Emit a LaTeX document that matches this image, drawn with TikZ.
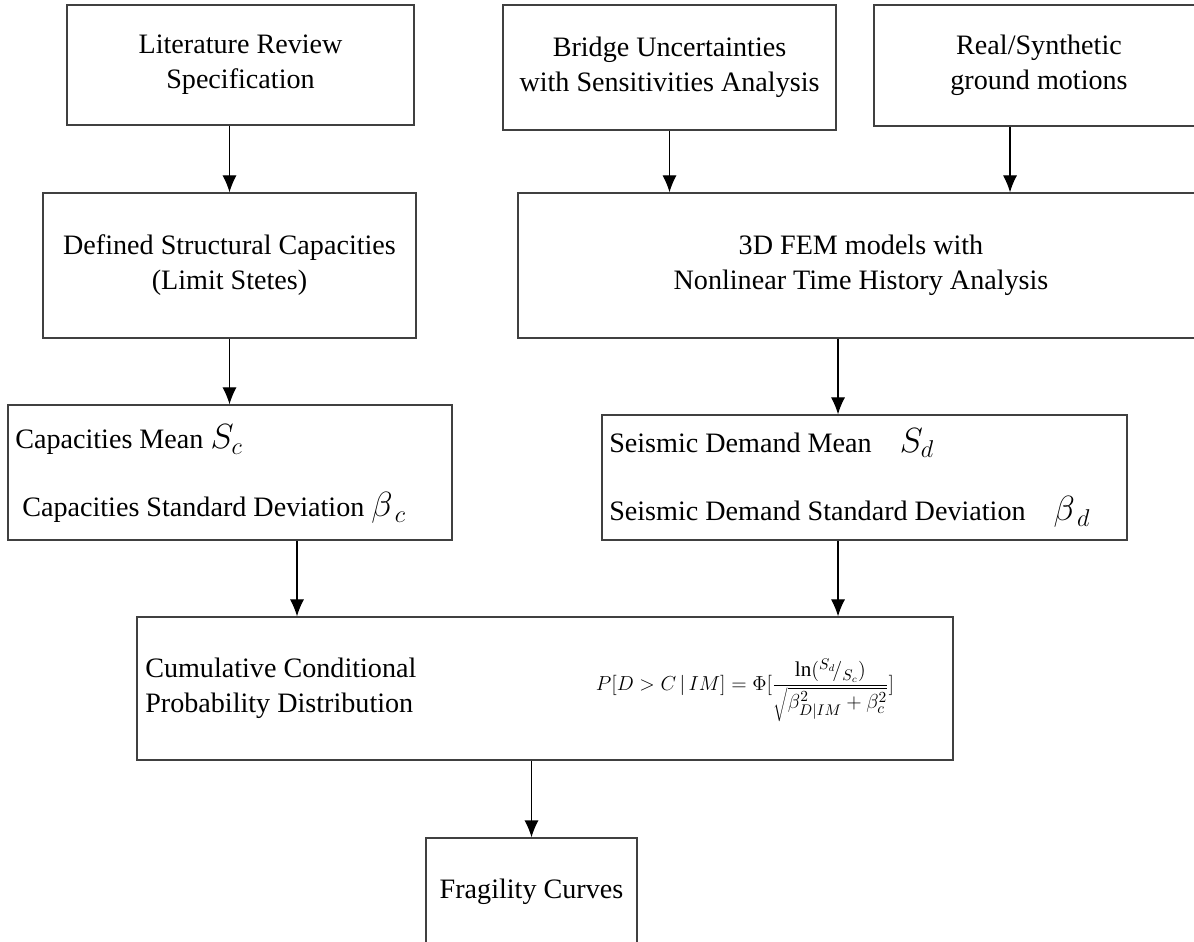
\documentclass[tikz,border=0pt]{standalone}
\usepackage{fontspec}
\setmainfont{Liberation Serif}
\usepackage{tikz}
\usetikzlibrary{shapes,arrows.meta}
\newcommand{\pxl}{0.025cm}
\newcommand{\bigSym}[1]{{\fontsize{24}{25}\selectfont$#1$}}
\tikzstyle{blockBox} = [rectangle, draw=black!75, line width=1pt, align=center, inner sep=0pt]
\tikzstyle{textRow} = [anchor=west, inner sep=0pt, align=left]
\tikzstyle{line} = [draw, line width=0.8pt, -{Latex[length=12pt,width=10pt]}]

\begin{document}
\begin{tikzpicture}[x=\pxl, y=-\pxl,
  % all text in the same serif font and size
  font=\fontsize{20}{25}\selectfont
  ]
  \useasboundingbox (0,0) rectangle (1194,941);
  \clip (0,0) rectangle (1194,941);

    % top row
    \node [blockBox, minimum width=347*\pxl, minimum height=120*\pxl] (litRev) at (240.5,65) {Literature Review\\Specification};
    \node [blockBox, minimum width=333*\pxl, minimum height=125*\pxl] (bridgeUnc) at (669.5,67.5) {Bridge Uncertainties\\with Sensitivities Analysis};
    \node [blockBox, minimum width=330*\pxl, minimum height=121*\pxl] (groundMot) at (1039,65.5) {Real/Synthetic\\ground motions};

    % second row
    \node [blockBox, minimum width=373*\pxl, minimum height=145*\pxl] (defCap) at (229.5,265.5) {Defined Structural Capacities\\(Limit Stetes)};
    \node [blockBox, minimum width=686*\pxl, minimum height=145*\pxl] (femModel) at (861,265.5) {3D FEM models with\\Nonlinear Time History Analysis};

    % third row
    \node [blockBox, minimum width=444*\pxl, minimum height=135*\pxl] (capStat) at (230,472.5) {};
    \node [textRow] (capMean) at (15,440) {Capacities Mean \bigSym{S_c}};
    \node [textRow] (capDev) at (22,508) {Capacities Standard Deviation \bigSym{\beta_{\,c}}};

    \node [blockBox, minimum width=525*\pxl, minimum height=125*\pxl] (demStat) at (864.5,477.5) {};
    \node [textRow] (demMean) at (609,443) {Seismic Demand Mean\quad\bigSym{S_d}};
    \node [textRow] (demDev) at (609,512) {Seismic Demand Standard Deviation\quad\bigSym{\beta_{\,d}}};

    % probability box
    \node [blockBox, minimum width=816*\pxl, minimum height=143*\pxl] (cumProb) at (545,688.5) {};
    \node [textRow] (cumText) at (145,688) {Cumulative Conditional\\Probability Distribution};
    \node [inner sep=0pt, font=\fontsize{15}{17}\selectfont] (cumEq) at (745,690)
      {$\displaystyle P[D>C\,|\,IM]=\Phi[\frac{\ln({}^{S_d}\!/_{S_c})}{\sqrt{\beta^2_{D|IM}+\beta^2_c}}]$};

    % result
    \node [blockBox, minimum width=211*\pxl, minimum height=107*\pxl] (fragCurve) at (531.5,891.5) {Fragility Curves};

    % arrow columns
    \coordinate (groundDrop) at (1010,0);
    \coordinate (demDrop) at (838,0);
    \coordinate (capDrop) at (297,0);

    % edges
    \path [line] (litRev.south -| defCap.north) -- (defCap.north);
    \path [line] (bridgeUnc.south) -- (bridgeUnc.south |- femModel.north);
    \path [line] (groundMot.south -| groundDrop) -- (femModel.north -| groundDrop);
    \path [line] (defCap.south) -- (defCap.south |- capStat.north);
    \path [line] (femModel.south -| demDrop) -- (demStat.north -| demDrop);
    \path [line] (capStat.south -| capDrop) -- (cumProb.north -| capDrop);
    \path [line] (demStat.south -| demDrop) -- (cumProb.north -| demDrop);
    \path [line] (cumProb.south -| fragCurve.north) -- (fragCurve.north);

  \end{tikzpicture}
\end{document}
